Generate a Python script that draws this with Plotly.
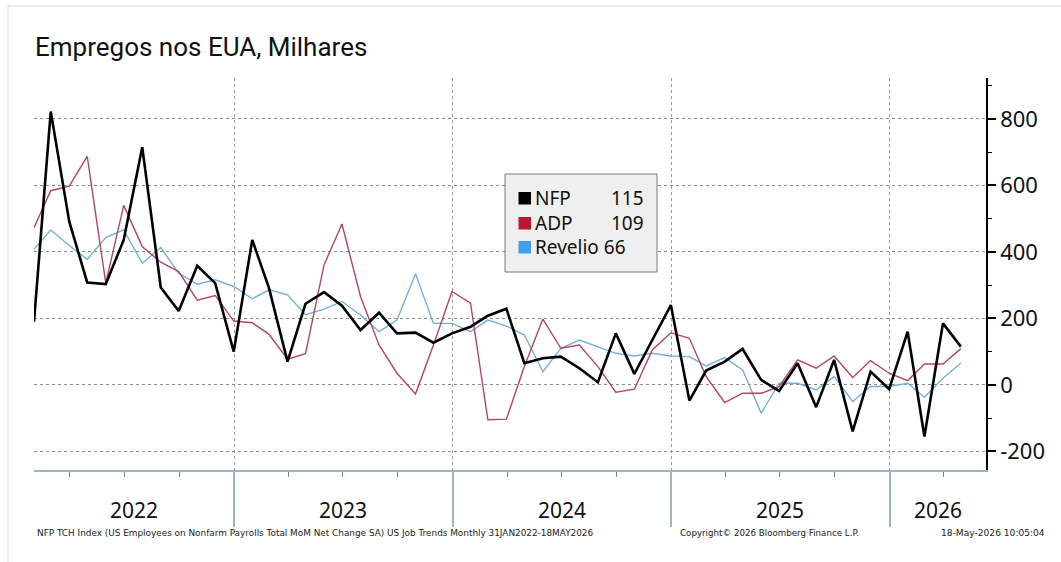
import pandas as pd
import plotly.graph_objects as go

# ---- data (monthly, Jan 2022 .. Apr 2026, values in thousands) ----
months = pd.date_range("2022-01-31", periods=52, freq="ME")

nfp = [190, 822, 491, 308, 303, 436, 715, 293, 222, 358, 306, 100,
       436, 291, 70, 244, 279, 238, 165, 217, 155, 157, 127, 155,
       175, 208, 229, 65, 80, 85, 50, 8, 155, 33, 135, 240,
       -47, 43, 70, 108, 15, -18, 65, -67, 75, -140, 40, -13,
       160, -155, 185, 115]

adp = [473, 584, 598, 687, 306, 540, 416, 369, 341, 255, 269, 192,
       187, 152, 77, 94, 361, 484, 266, 120, 35, -27, 120, 281,
       246, -105, -103, 55, 198, 110, 120, 55, -22, -13, 105, 157,
       140, 25, -53, -25, -25, -5, 75, 50, 87, 22, 73, 35,
       13, 63, 63, 109]

revelio = [408, 466, 419, 378, 443, 466, 366, 413, 336, 303, 316, 296,
           259, 286, 271, 211, 228, 251, 210, 160, 195, 334, 185, 185,
           160, 195, 177, 150, 40, 110, 135, 115, 95, 87, 95, 87,
           85, 57, 82, 45, -85, 5, 5, -15, 25, -50, -5, -5,
           5, -37, 20, 66]

series_names = ["NFP", "ADP", "Revelio"]
line_colors = ["#000000", "#b3475d", "#72b2d8"]
swatch_colors = ["#000000", "#c0152f", "#3f9ff0"]

year_labels = ["2022", "2023", "2024", "2025", "2026"]
year_label_pos = ["2022-07-17", "2023-07-02", "2024-07-02", "2025-07-02", "2026-03-22"]

y_ticks = [-200, 0, 200, 400, 600, 800]

title_text = "Empregos nos EUA, Milhares"
footer_left = ("NFP TCH Index (US Employees on Nonfarm Payrolls Total MoM Net Change SA) "
               "US Job Trends Monthly 31JAN2022-18MAY2026")
footer_mid = "Copyright\u00a9 2026 Bloomberg Finance L.P."
footer_right = "18-May-2026 10:05:04"

# ---- figure ----
W, H = 1061, 562
L, R, T, B = 34, 75, 78, 92
pw, ph = W - L - R, H - T - B


def px_x(x):
    return (x - L) / pw


def px_y(y):
    return (H - B - y) / ph


fig = go.Figure()

fig.add_trace(go.Scatter(x=months, y=revelio, mode="lines", name="Revelio",
                         line=dict(color=line_colors[2], width=1.4)))
fig.add_trace(go.Scatter(x=months, y=adp, mode="lines", name="ADP",
                         line=dict(color=line_colors[1], width=1.4)))
fig.add_trace(go.Scatter(x=months, y=nfp, mode="lines", name="NFP",
                         line=dict(color=line_colors[0], width=2.6)))

fig.update_layout(
    width=W, height=H,
    margin=dict(l=L, r=R, t=T, b=B),
    paper_bgcolor="white", plot_bgcolor="white",
    showlegend=False,
    title=dict(text=title_text, x=35 / W, xanchor="left", xref="container",
               y=1 - 47 / H, yanchor="middle", yref="container",
               font=dict(family="Roboto", size=26, color="#111111")),
    font=dict(family="Noto Sans", color="#111111"),
)

fig.update_xaxes(
    type="date",
    range=["2022-01-31", "2026-06-11"],
    showticklabels=False,
    tick0="2022-01-01", dtick="M12",
    ticks="outside", ticklen=55, tickcolor="#9fb6c2", tickwidth=1.5,
    showgrid=True, gridcolor="#9a9a9a", griddash="dot", gridwidth=1,
    showline=True, linecolor="#9fb6c2", linewidth=2,
    minor=dict(dtick="M3", tick0="2022-01-01", ticks="outside", ticklen=5,
               tickcolor="#6f8a96", tickwidth=1, showgrid=False),
    zeroline=False,
)

fig.update_yaxes(
    side="right",
    range=[-256, 923],
    tickvals=y_ticks,
    ticktext=[str(v) for v in y_ticks],
    ticks="outside", ticklen=8, tickwidth=2, tickcolor="#000000",
    tickfont=dict(family="Noto Sans", size=22, color="#111111"),
    showgrid=True, gridcolor="#8c8c8c", griddash="dot", gridwidth=1,
    showline=True, linecolor="#000000", linewidth=1.5,
    minor=dict(dtick=100, tick0=0, ticks="outside", ticklen=4,
               tickcolor="#000000", tickwidth=1, showgrid=False),
    zeroline=False,
)

# year labels under the axis
for lab, pos in zip(year_labels, year_label_pos):
    fig.add_annotation(x=pos, xref="x", y=px_y(510), yref="paper",
                       text=lab, showarrow=False, xanchor="center", yanchor="middle",
                       font=dict(family="Noto Sans", size=21, color="#111111"))

# footer
fy = px_y(533)
fig.add_annotation(x=px_x(35), y=fy, xref="paper", yref="paper", text=footer_left,
                   showarrow=False, xanchor="left", yanchor="middle",
                   font=dict(family="DejaVu Sans", size=8.9, color="#222222"))
fig.add_annotation(x=px_x(678), y=fy, xref="paper", yref="paper", text=footer_mid,
                   showarrow=False, xanchor="left", yanchor="middle",
                   font=dict(family="DejaVu Sans", size=8.7, color="#222222"))
fig.add_annotation(x=px_x(1047), y=fy, xref="paper", yref="paper", text=footer_right,
                   showarrow=False, xanchor="right", yanchor="middle",
                   font=dict(family="DejaVu Sans", size=9.1, color="#222222"))

# frame lines of the whole picture (left and top)
fig.add_shape(type="line", xref="paper", yref="paper",
              x0=px_x(8), x1=px_x(8), y0=px_y(6), y1=px_y(562),
              line=dict(color="#dcdcdc", width=1))
fig.add_shape(type="line", xref="paper", yref="paper",
              x0=px_x(8), x1=px_x(1061), y0=px_y(6), y1=px_y(6),
              line=dict(color="#dcdcdc", width=1))

# custom legend box with last values
fig.add_shape(type="rect", xref="paper", yref="paper",
              x0=px_x(505), x1=px_x(657), y0=px_y(272), y1=px_y(174),
              fillcolor="#efefef", line=dict(color="#7a7a7a", width=1), layer="above")

last_vals = [nfp[-1], adp[-1], revelio[-1]]
row_y = [198, 223, 247]
for name, sc, val, ry in zip(series_names, swatch_colors, last_vals, row_y):
    fig.add_shape(type="rect", xref="paper", yref="paper",
                  x0=px_x(518.5), x1=px_x(531), y0=px_y(ry + 6.5), y1=px_y(ry - 6),
                  fillcolor=sc, line=dict(width=0), layer="above")
    if name == "Revelio":
        fig.add_annotation(x=px_x(533), y=px_y(ry), xref="paper", yref="paper",
                           text=f"{name} {val}", showarrow=False,
                           xanchor="left", yanchor="middle",
                           font=dict(family="Noto Sans", size=19, color="#111111"))
    else:
        fig.add_annotation(x=px_x(533), y=px_y(ry), xref="paper", yref="paper",
                           text=name, showarrow=False,
                           xanchor="left", yanchor="middle",
                           font=dict(family="Noto Sans", size=19, color="#111111"))
        fig.add_annotation(x=px_x(646), y=px_y(ry), xref="paper", yref="paper",
                           text=str(val), showarrow=False,
                           xanchor="right", yanchor="middle",
                           font=dict(family="Noto Sans", size=19, color="#111111"))

fig.write_html("out.html")
